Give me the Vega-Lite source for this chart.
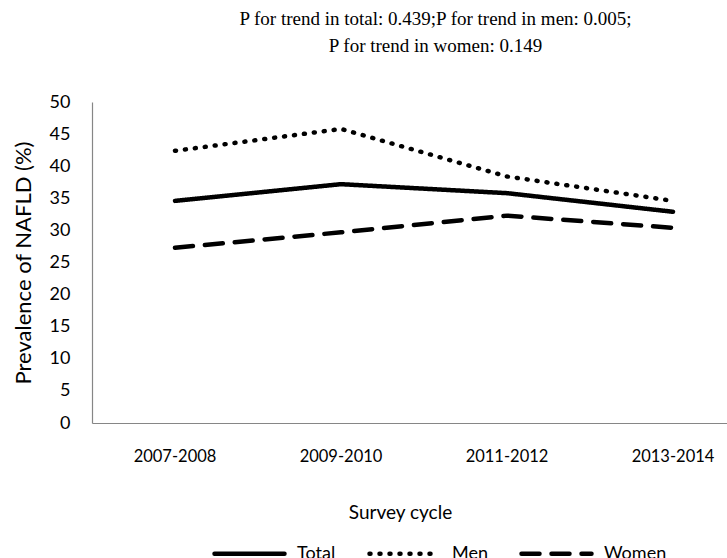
{
  "$schema": "https://vega.github.io/schema/vega-lite/v6.json",
  "autosize": {"type": "none"},
  "width": 635,
  "height": 321,
  "padding": {"left": 92, "top": 102, "right": 0, "bottom": 135},
  "background": "white",
  "title": {
    "text": ["P for trend in total: 0.439;P for trend in men: 0.005;", "P for trend in women: 0.149"],
    "font": "Liberation Serif",
    "fontSize": 19,
    "fontWeight": "normal",
    "color": "black",
    "anchor": "middle",
    "dx": 26,
    "offset": 37,
    "lineHeight": 27
  },
  "config": {
    "view": {"stroke": null},
    "axis": {"grid": false, "ticks": false, "domainColor": "#868686", "domainWidth": 1.2, "labelColor": "black", "titleColor": "black", "labelFont": "Lato", "titleFont": "Lato", "titleFontWeight": "normal"}
  },
  "data": {
    "values": [
      {"cycle": "2007-2008", "group": "Total", "prev": 34.6},
      {"cycle": "2009-2010", "group": "Total", "prev": 37.2},
      {"cycle": "2011-2012", "group": "Total", "prev": 35.8},
      {"cycle": "2013-2014", "group": "Total", "prev": 32.9},
      {"cycle": "2007-2008", "group": "Men", "prev": 42.4},
      {"cycle": "2009-2010", "group": "Men", "prev": 45.8},
      {"cycle": "2011-2012", "group": "Men", "prev": 38.4},
      {"cycle": "2013-2014", "group": "Men", "prev": 34.6},
      {"cycle": "2007-2008", "group": "Women", "prev": 27.3},
      {"cycle": "2009-2010", "group": "Women", "prev": 29.7},
      {"cycle": "2011-2012", "group": "Women", "prev": 32.3},
      {"cycle": "2013-2014", "group": "Women", "prev": 30.4}
    ]
  },
  "mark": {"type": "line", "color": "black", "strokeWidth": 4.5, "strokeCap": "round", "clip": false},
  "encoding": {
    "x": {
      "field": "cycle",
      "type": "nominal",
      "scale": {"type": "band", "range": [0, 664], "paddingInner": 0, "paddingOuter": 0},
      "axis": {
        "title": "Survey cycle",
        "labelAngle": 0,
        "labelFontSize": 16.5,
        "labelPadding": 25,
        "titleFontSize": 19,
        "titleX": 308,
        "titleY": 89,
        "titleBaseline": "middle",
        "titleAlign": "center"
      }
    },
    "y": {
      "field": "prev",
      "type": "quantitative",
      "scale": {"domain": [0, 50]},
      "axis": {
        "title": "Prevalence of NAFLD (%)",
        "values": [0, 5, 10, 15, 20, 25, 30, 35, 40, 45, 50],
        "labelFontSize": 18,
        "labelPadding": 22,
        "titleFontSize": 22,
        "titleX": -69,
        "titleY": 160.5,
        "titleAngle": 270,
        "titleAlign": "center",
        "titleBaseline": "middle"
      }
    },
    "strokeDash": {
      "field": "group",
      "type": "nominal",
      "scale": {"domain": ["Total", "Men", "Women"], "range": [[1, 0], [1, 9], [18, 12]]},
      "legend": {
        "title": null,
        "orient": "none",
        "direction": "horizontal",
        "legendX": 120,
        "legendY": 414,
        "symbolType": "stroke",
        "symbolSize": 4900,
        "symbolStrokeWidth": 4.5,
        "symbolStrokeColor": "black",
        "labelFont": "Lato",
        "labelFontSize": 18,
        "labelColor": "black",
        "labelOffset": 10,
        "columnPadding": 24,
        "encode": {"symbols": {"update": {"strokeCap": {"value": "round"}}}}
      }
    }
  }
}
